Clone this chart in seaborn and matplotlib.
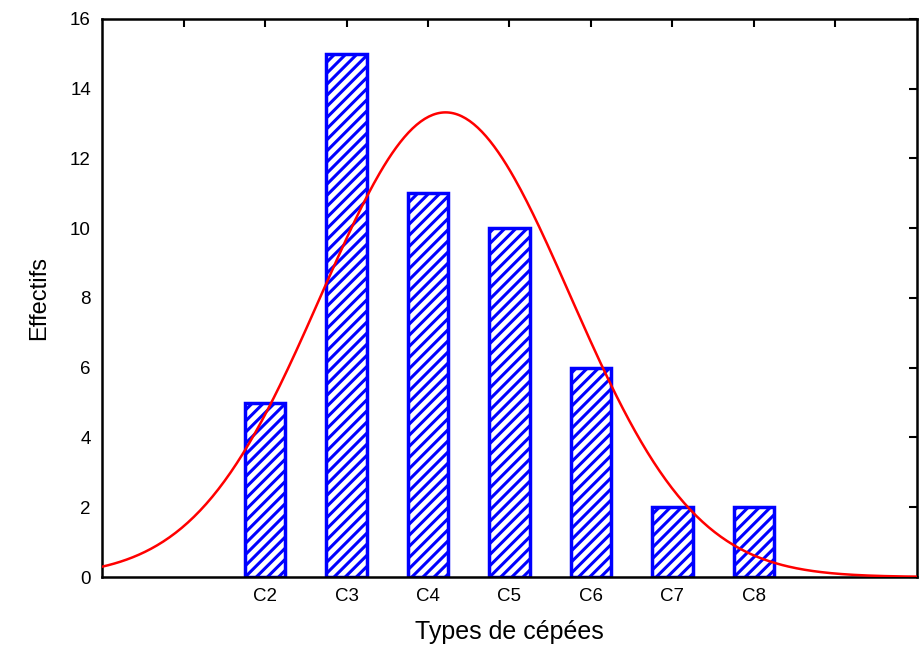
import numpy as np
import pandas as pd
import matplotlib
matplotlib.use("Agg")
import matplotlib.pyplot as plt
import seaborn as sns

categories = ["C2", "C3", "C4", "C5", "C6", "C7", "C8"]
positions = [2, 3, 4, 5, 6, 7, 8]
counts = [5, 15, 11, 10, 6, 2, 2]
y_ticks = [0, 2, 4, 6, 8, 10, 12, 14, 16]

sns.set_style("white")
plt.rcParams['font.family'] = ['Liberation Sans', 'DejaVu Sans']
plt.rcParams['hatch.color'] = 'blue'
plt.rcParams['hatch.linewidth'] = 2.2
plt.rcParams['text.color'] = 'black'
plt.rcParams['axes.labelcolor'] = 'black'

fig = plt.figure(figsize=(9.24, 6.5), dpi=100)
ax = fig.add_axes([0.1104, 0.1123, 0.8820, 0.8585])

df = pd.DataFrame({"x": positions, "y": counts})
sns.barplot(data=df, x="x", y="y", native_scale=True, width=0.5,
            color="white", edgecolor="blue", linewidth=2.5, hatch="///",
            ax=ax, zorder=2)

# Fitted normal curve from the bar data
vals = np.repeat(positions, counts)
mu = vals.mean()
sd = vals.std(ddof=1)
xs = np.linspace(0, 10, 400)
ys = len(vals) * np.exp(-0.5 * ((xs - mu) / sd) ** 2) / (sd * np.sqrt(2 * np.pi))
sns.lineplot(x=xs, y=ys, color="red", linewidth=1.8, ax=ax, zorder=3)

ax.set_xlim(0, 10)
ax.set_ylim(0, 16)
ax.set_xticks(list(range(1, 10)))
ax.set_xticklabels([""] + categories + [""], fontsize=13.5)
ax.set_yticks(y_ticks)
ax.set_yticklabels([str(t) for t in y_ticks], fontsize=13.5)
ax.tick_params(direction="in", length=6, width=1.5, top=True, right=True,
               labeltop=False, labelright=False, pad=8, colors="black")
for s in ax.spines.values():
    s.set_visible(True)
    s.set_linewidth(1.8)
    s.set_color("black")

ax.set_xlabel("Types de cépées", fontsize=18, labelpad=11, color="black")
ax.set_ylabel("Effectifs", fontsize=17, labelpad=14, color="black")

fig.savefig("out.png", dpi=100)
